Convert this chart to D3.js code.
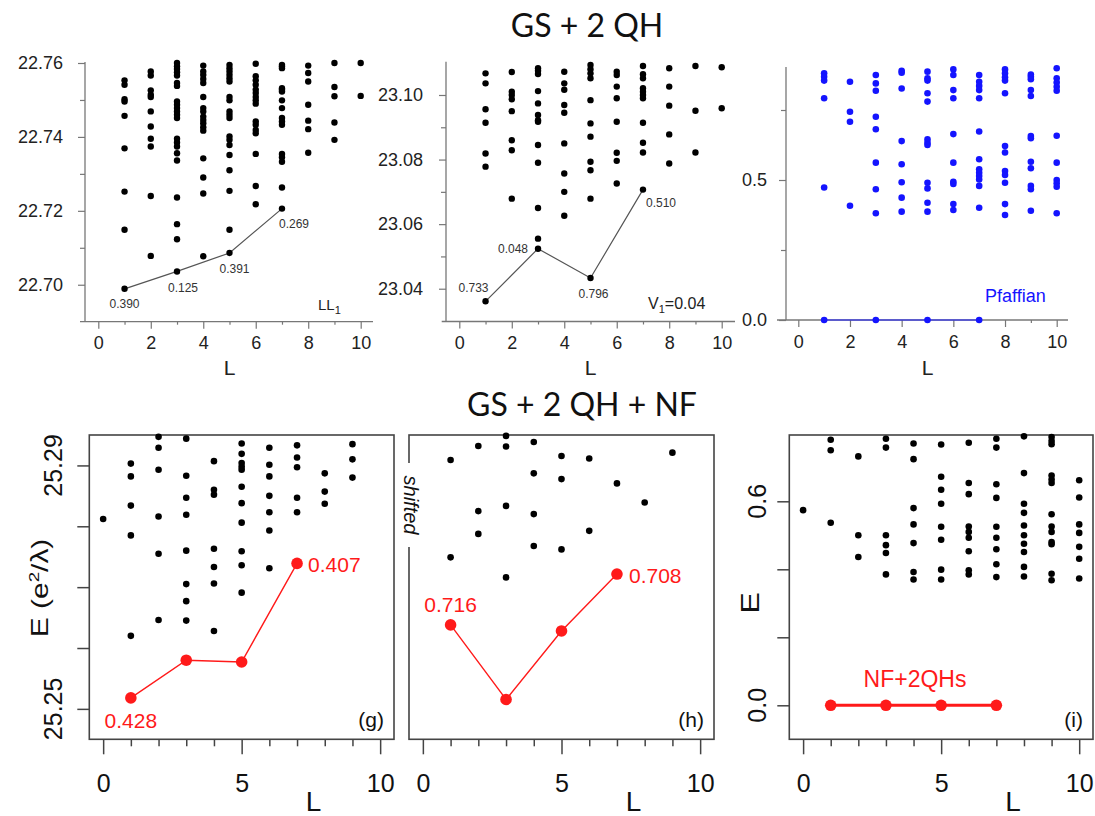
<!DOCTYPE html>
<html>
<head>
<meta charset="utf-8">
<script src="https://cdn.jsdelivr.net/npm/d3@7"></script>
<style>
  body { margin: 0; background: #fff; }
  svg { display: block; }
</style>
</head>
<body>
<script>
// Angular momentum values shared by all panels
const Lvalues = [0, 1, 2, 3, 4, 5, 6, 7, 8, 9, 10];

// ---- Panel LL1 (top left): energies per L (index = L)
const ll1Energies = [
  [],
  [22.7553, 22.7541, 22.7502, 22.7496, 22.7457, 22.7369, 22.7252, 22.7149],
  [22.7577, 22.7566, 22.7526, 22.7514, 22.7508, 22.7469, 22.7428, 22.7395, 22.7374, 22.7240, 22.7078],
  [22.7600, 22.7591, 22.7584, 22.7575, 22.7566, 22.7546, 22.7538, 22.7496, 22.7487, 22.7478, 22.7469, 22.7460, 22.7451, 22.7395, 22.7385, 22.7374, 22.7356, 22.7336, 22.7236, 22.7164, 22.7123],
  [22.7593, 22.7577, 22.7568, 22.7557, 22.7546, 22.7508, 22.7478, 22.7469, 22.7455, 22.7446, 22.7437, 22.7426, 22.7417, 22.7342, 22.7290, 22.7247, 22.7077],
  [22.7595, 22.7586, 22.7577, 22.7568, 22.7559, 22.7550, 22.7508, 22.7499, 22.7469, 22.7460, 22.7451, 22.7401, 22.7392, 22.7378, 22.7351, 22.7310, 22.7254, 22.7149],
  [22.7598, 22.7564, 22.7553, 22.7541, 22.7528, 22.7519, 22.7508, 22.7499, 22.7490, 22.7442, 22.7433, 22.7419, 22.7410, 22.7354, 22.7267, 22.7218],
  [22.7595, 22.7591, 22.7586, 22.7532, 22.7528, 22.7523, 22.7499, 22.7478, 22.7451, 22.7442, 22.7433, 22.7354, 22.7345, 22.7333, 22.7263],
  [22.7593, 22.7573, 22.7550, 22.7487, 22.7444, 22.7421, 22.7357],
  [22.7600, 22.7535, 22.7510, 22.7439, 22.7392],
  [22.7600, 22.7511]
];
const ll1LineL = [1, 3, 5, 7];
const ll1LineE = [22.6989, 22.7036, 22.7086, 22.7206];
const ll1LineLabels = ["0.390", "0.125", "0.391", "0.269"];
const ll1Ticks = [22.70, 22.72, 22.74, 22.76];

// ---- Panel V1=0.04 (top middle)
const v1Energies = [
  [],
  [23.1067, 23.1036, 23.0956, 23.0914, 23.0819, 23.0778],
  [23.1071, 23.1010, 23.1000, 23.0987, 23.0950, 23.0860, 23.0829, 23.0679],
  [23.1083, 23.1075, 23.1065, 23.1012, 23.0974, 23.0938, 23.0922, 23.0917, 23.0845, 23.0790, 23.0650, 23.0555],
  [23.1072, 23.1036, 23.1016, 23.0969, 23.0945, 23.0850, 23.0757, 23.0700, 23.0626],
  [23.1093, 23.1080, 23.1067, 23.1052, 23.0984, 23.0912, 23.0871, 23.0793, 23.0767, 23.0679],
  [23.1072, 23.1062, 23.1026, 23.0990, 23.0917, 23.0821, 23.0796, 23.0726],
  [23.1090, 23.1064, 23.1052, 23.1021, 23.1010, 23.1000, 23.0990, 23.0914, 23.0852, 23.0822],
  [23.1083, 23.1026, 23.0967, 23.0878, 23.0788],
  [23.1090, 23.0951, 23.0822],
  [23.1086, 23.0959]
];
const v1LineL = [1, 3, 5, 7];
const v1LineE = [23.0361, 23.0524, 23.0433, 23.0707];
const v1LineLabels = ["0.733", "0.048", "0.796", "0.510"];
const v1Ticks = [23.04, 23.06, 23.08, 23.10];

// ---- Panel Pfaffian (top right)
const pfEnergies = [
  [],
  [0.881, 0.869, 0.855, 0.792, 0.473],
  [0.851, 0.744, 0.708, 0.408],
  [0.875, 0.845, 0.819, 0.726, 0.681, 0.562, 0.467, 0.381],
  [0.890, 0.883, 0.827, 0.639, 0.556, 0.492, 0.437, 0.387],
  [0.887, 0.863, 0.855, 0.810, 0.780, 0.645, 0.633, 0.625, 0.490, 0.470, 0.419, 0.387],
  [0.895, 0.875, 0.821, 0.792, 0.664, 0.562, 0.494, 0.486, 0.414, 0.393],
  [0.875, 0.851, 0.836, 0.821, 0.792, 0.673, 0.574, 0.538, 0.526, 0.514, 0.502, 0.479, 0.401],
  [0.895, 0.881, 0.867, 0.855, 0.810, 0.621, 0.598, 0.532, 0.518, 0.490, 0.414, 0.375],
  [0.877, 0.869, 0.860, 0.821, 0.800, 0.657, 0.649, 0.565, 0.542, 0.479, 0.467, 0.390],
  [0.899, 0.863, 0.848, 0.833, 0.819, 0.658, 0.562, 0.500, 0.488, 0.476, 0.381]
];
const pfLineL = [1, 3, 5, 7];
const pfLineE = [0, 0, 0, 0];
const pfTicks = [0.0, 0.5];

// ---- Panel (g) GS + 2QH + NF
const gEnergies = [
  [25.2812],
  [25.2903, 25.2882, 25.2834, 25.2785, 25.2620],
  [25.2947, 25.2929, 25.2893, 25.2816, 25.2755, 25.2646],
  [25.2944, 25.2883, 25.2847, 25.2819, 25.2760, 25.2705, 25.2677, 25.2645],
  [25.2907, 25.2860, 25.2852, 25.2763, 25.2733, 25.2706, 25.2628],
  [25.2936, 25.2919, 25.2904, 25.2898, 25.2893, 25.2865, 25.2838, 25.2806, 25.2759, 25.2736, 25.2691],
  [25.2929, 25.2901, 25.2882, 25.2850, 25.2823, 25.2793, 25.2731],
  [25.2933, 25.2913, 25.2897, 25.2847, 25.2823],
  [25.2887, 25.2857, 25.2837],
  [25.2935, 25.2910, 25.2880],
  []
];
const gLineL = [1, 3, 5, 7];
const gLineE = [25.2518, 25.2580, 25.2577, 25.2739];
const gLineLabels = ["0.428", "0.407"];
const gTicks = [25.25, 25.26, 25.27, 25.28, 25.29];
const gTickLabels = [25.25, 25.29];

// ---- Panel (h) shifted energies (relative units)
const hEnergies = [
  [],
  [0.918, 0.598],
  [0.964, 0.750, 0.675],
  [0.997, 0.962, 0.767, 0.532],
  [0.977, 0.874, 0.740, 0.635],
  [0.931, 0.855, 0.624],
  [0.923, 0.685],
  [0.841],
  [0.778],
  [0.942],
  []
];
const hLineL = [1, 3, 5, 7];
const hLineE = [0.376, 0.131, 0.356, 0.543];
const hLineLabels = ["0.716", "0.708"];

// ---- Panel (i)
const iEnergies = [
  [0.574],
  [0.781, 0.750, 0.537],
  [0.732, 0.500, 0.436],
  [0.784, 0.758, 0.500, 0.471, 0.448, 0.385],
  [0.770, 0.724, 0.580, 0.532, 0.477, 0.392, 0.370],
  [0.767, 0.672, 0.634, 0.593, 0.525, 0.487, 0.399, 0.370],
  [0.772, 0.654, 0.621, 0.526, 0.510, 0.493, 0.453, 0.397, 0.385],
  [0.784, 0.758, 0.650, 0.610, 0.525, 0.493, 0.459, 0.415, 0.377],
  [0.791, 0.683, 0.593, 0.566, 0.529, 0.500, 0.475, 0.451, 0.407, 0.379],
  [0.789, 0.777, 0.768, 0.676, 0.664, 0.654, 0.562, 0.526, 0.510, 0.480, 0.474, 0.387, 0.368],
  [0.662, 0.611, 0.532, 0.507, 0.466, 0.431, 0.373]
];
const iLineL = [1, 3, 5, 7];
const iLineE = [0, 0, 0, 0];
const iTicks = [0.0, 0.2, 0.4, 0.6];
const iTickLabels = [0.0, 0.6];

const topXTicks = [0, 2, 4, 6, 8, 10];
const bottomXTicks = [0, 5, 10];

const sans = "'Liberation Sans', Arial, Helvetica, sans-serif";
const red = "#ff1a1a";

const svg = d3.select("body").append("svg")
  .attr("width", 1095)
  .attr("height", 816);

// Titles
svg.append("text")
  .attr("x", 587).attr("y", 37)
  .attr("text-anchor", "middle")
  .attr("font-family", "Lato, 'Open Sans', sans-serif")
  .attr("font-size", "32px")
  .attr("fill", "#111")
  .text("GS + 2 QH");

svg.append("text")
  .attr("x", 582).attr("y", 416)
  .attr("text-anchor", "middle")
  .attr("font-family", "Lato, 'Open Sans', sans-serif")
  .attr("font-size", "32px")
  .attr("fill", "#111")
  .text("GS + 2 QH + NF");

// flatten an energies-per-L table into points
function toPoints(table) {
  const pts = [];
  table.forEach((list, i) => list.forEach(e => pts.push({L: Lvalues[i], E: e})));
  return pts;
}

// ---------- Top row panels ----------
function topPanel(cfg) {
  const g = svg.append("g");
  const x = d3.scaleLinear().domain([0, 10]).range(cfg.xRange);
  const y = d3.scaleLinear().domain(cfg.yDomain).range([cfg.yBottom, cfg.yTop]);

  // axis lines
  g.append("line")
    .attr("x1", cfg.axisX).attr("x2", cfg.axisX)
    .attr("y1", cfg.yTop - 1).attr("y2", cfg.xAxisY)
    .attr("stroke", "#777").attr("stroke-width", 1.3);
  g.append("line")
    .attr("x1", cfg.xLineRange[0]).attr("x2", cfg.xLineRange[1])
    .attr("y1", cfg.xAxisY).attr("y2", cfg.xAxisY)
    .attr("stroke", "#777").attr("stroke-width", 1.3);

  // x ticks
  const xMinor = g.append("g").attr("transform", `translate(0,${cfg.xAxisY})`)
    .call(d3.axisBottom(x).tickValues(Lvalues.filter(v => v % 2 === 1)).tickSize(3).tickFormat(""));
  const xMajor = g.append("g").attr("transform", `translate(0,${cfg.xAxisY})`)
    .call(d3.axisBottom(x).tickValues(topXTicks).tickSize(7).tickPadding(8));
  [xMinor, xMajor].forEach(a => {
    a.select(".domain").remove();
    a.selectAll("line").attr("stroke", "#777").attr("stroke-width", 1.2);
    a.selectAll("text")
      .attr("font-family", sans).attr("font-size", "18px").attr("fill", "#222");
  });

  // y ticks
  const yMinor = g.append("g").attr("transform", `translate(${cfg.axisX},0)`)
    .call(d3.axisLeft(y).tickValues(cfg.minorTicks).tickSize(5).tickFormat(""));
  const yMajor = g.append("g").attr("transform", `translate(${cfg.axisX},0)`)
    .call(d3.axisLeft(y).tickValues(cfg.ticks).tickSize(7).tickPadding(cfg.yPad)
      .tickFormat(d3.format(cfg.fmt)));
  [yMinor, yMajor].forEach(a => {
    a.select(".domain").remove();
    a.selectAll("line").attr("stroke", "#777").attr("stroke-width", 1.2);
    a.selectAll("text")
      .attr("font-family", sans).attr("font-size", "18px").attr("fill", "#222");
  });

  // L label
  g.append("text")
    .attr("x", (cfg.xRange[0] + cfg.xRange[1]) / 2).attr("y", 375)
    .attr("text-anchor", "middle")
    .attr("font-family", sans).attr("font-size", "21px").attr("fill", "#222")
    .text("L");

  // connecting line
  const lineData = cfg.lineL.map((l, i) => ({L: l, E: cfg.lineE[i]}));
  g.append("path")
    .datum(lineData)
    .attr("d", d3.line().x(d => x(d.L)).y(d => y(d.E)))
    .attr("fill", "none")
    .attr("stroke", cfg.lineColor)
    .attr("stroke-width", 1.2);

  // dots
  g.selectAll("circle.dot")
    .data(toPoints(cfg.energies).concat(lineData))
    .join("circle")
    .attr("class", "dot")
    .attr("cx", d => x(d.L))
    .attr("cy", d => y(d.E))
    .attr("r", cfg.r)
    .attr("fill", cfg.color);

  return {g, x, y, lineData};
}

// Panel LL1
const p1 = topPanel({
  xRange: [98.3, 360.7], yDomain: [22.69, 22.76], yBottom: 321.7, yTop: 63,
  axisX: 85, xAxisY: 321.7, xLineRange: [80, 373],
  ticks: ll1Ticks, minorTicks: [22.71, 22.73, 22.75], fmt: ".2f", yPad: 15,
  energies: ll1Energies, lineL: ll1LineL, lineE: ll1LineE,
  lineColor: "#555", color: "#000", r: 3.2
});
const ll1Offsets = [[0, 19], [6, 21], [5, 20], [12, 19]];
p1.g.selectAll("text.lbl")
  .data(p1.lineData)
  .join("text")
  .attr("class", "lbl")
  .attr("x", (d, i) => p1.x(d.L) + ll1Offsets[i][0])
  .attr("y", (d, i) => p1.y(d.E) + ll1Offsets[i][1])
  .attr("text-anchor", "middle")
  .attr("font-family", sans).attr("font-size", "12px").attr("fill", "#333")
  .text((d, i) => ll1LineLabels[i]);
const ll1Tag = p1.g.append("text")
  .attr("x", 318).attr("y", 310)
  .attr("font-family", sans).attr("font-size", "15px").attr("fill", "#222");
ll1Tag.append("tspan").text("LL");
ll1Tag.append("tspan").attr("font-size", "11px").attr("dy", 4).text("1");

// Panel V1
const p2 = topPanel({
  xRange: [459.3, 721.7], yDomain: [23.03, 23.11], yBottom: 321, yTop: 62.7,
  axisX: 446, xAxisY: 321.5, xLineRange: [441.7, 735],
  ticks: v1Ticks, minorTicks: [23.05, 23.07, 23.09], fmt: ".2f", yPad: 16,
  energies: v1Energies, lineL: v1LineL, lineE: v1LineE,
  lineColor: "#555", color: "#000", r: 3.2
});
const v1Offsets = [[-12, -9, "middle"], [-10, 4, "end"], [3, 20, "middle"], [3, 17, "start"]];
p2.g.selectAll("text.lbl")
  .data(p2.lineData)
  .join("text")
  .attr("class", "lbl")
  .attr("x", (d, i) => p2.x(d.L) + v1Offsets[i][0])
  .attr("y", (d, i) => p2.y(d.E) + v1Offsets[i][1])
  .attr("text-anchor", (d, i) => v1Offsets[i][2])
  .attr("font-family", sans).attr("font-size", "12px").attr("fill", "#333")
  .text((d, i) => v1LineLabels[i]);
const v1Tag = p2.g.append("text")
  .attr("x", 648).attr("y", 309)
  .attr("font-family", sans).attr("font-size", "16px").attr("fill", "#222");
v1Tag.append("tspan").text("V");
v1Tag.append("tspan").attr("font-size", "11px").attr("dy", 4).text("1");
v1Tag.append("tspan").attr("dy", -4).text("=0.04");

// Panel Pfaffian
const p3 = topPanel({
  xRange: [798.3, 1056.7], yDomain: [0, 0.9], yBottom: 320, yTop: 68,
  axisX: 786, xAxisY: 320, xLineRange: [777, 1068],
  ticks: pfTicks, minorTicks: [0.25, 0.75], fmt: ".1f", yPad: 12,
  energies: pfEnergies, lineL: pfLineL, lineE: pfLineE,
  lineColor: "#1f1fff", color: "#1414ff", r: 3.3
});
p3.g.append("text")
  .attr("x", 985).attr("y", 302)
  .attr("font-family", sans).attr("font-size", "18px").attr("fill", "#1414ff")
  .text("Pfaffian");

// ---------- Bottom row panels ----------
function bottomPanel(cfg) {
  const g = svg.append("g");
  const x = d3.scaleLinear().domain([-0.5, 10.5]).range([cfg.left, cfg.right]);
  const y = d3.scaleLinear().domain(cfg.yDomain).range([739.3, 435]);

  g.append("rect")
    .attr("x", cfg.left).attr("y", 435)
    .attr("width", cfg.right - cfg.left).attr("height", 739.3 - 435)
    .attr("fill", "none").attr("stroke", "#444").attr("stroke-width", 1.6);

  const xMinor = g.append("g").attr("transform", "translate(0,739.3)")
    .call(d3.axisBottom(x).tickValues(Lvalues.filter(v => v % 5 !== 0)).tickSize(7).tickFormat(""));
  const xMajor = g.append("g").attr("transform", "translate(0,739.3)")
    .call(d3.axisBottom(x).tickValues(bottomXTicks).tickSize(15).tickPadding(20));
  [xMinor, xMajor].forEach(a => {
    a.select(".domain").remove();
    a.selectAll("line").attr("stroke", "#444").attr("stroke-width", 1.5);
    a.selectAll("text")
      .attr("font-family", sans).attr("font-size", "25px").attr("fill", "#111");
  });

  if (cfg.ticks) {
    const ya = g.append("g").attr("transform", `translate(${cfg.left},0)`)
      .call(d3.axisLeft(y).tickValues(cfg.ticks).tickSize(12).tickFormat(""));
    ya.select(".domain").remove();
    ya.selectAll("line").attr("stroke", "#444").attr("stroke-width", 1.5);
    g.selectAll("text.ytick")
      .data(cfg.tickLabels)
      .join("text")
      .attr("class", "ytick")
      .attr("transform", d => `translate(${cfg.tickLabelX},${y(d)}) rotate(-90)`)
      .attr("text-anchor", "middle")
      .attr("dy", "0.35em")
      .attr("font-family", sans).attr("font-size", "25px").attr("fill", "#111")
      .text(d => d3.format(cfg.fmt)(d));
  }

  g.append("text")
    .attr("x", (cfg.left + cfg.right) / 2 + 72).attr("y", 811)
    .attr("text-anchor", "middle")
    .attr("font-family", sans).attr("font-size", "28px").attr("fill", "#111")
    .text("L");

  g.selectAll("circle.dot")
    .data(toPoints(cfg.energies))
    .join("circle")
    .attr("class", "dot")
    .attr("cx", d => x(d.L))
    .attr("cy", d => y(d.E))
    .attr("r", 3.3)
    .attr("fill", "#000");

  const lineData = cfg.lineL.map((l, i) => ({L: l, E: cfg.lineE[i]}));
  g.append("path")
    .datum(lineData)
    .attr("d", d3.line().x(d => x(d.L)).y(d => y(d.E)))
    .attr("fill", "none")
    .attr("stroke", red)
    .attr("stroke-width", cfg.lineWidth);
  g.selectAll("circle.red")
    .data(lineData)
    .join("circle")
    .attr("class", "red")
    .attr("cx", d => x(d.L))
    .attr("cy", d => y(d.E))
    .attr("r", 5.8)
    .attr("fill", red);

  g.append("text")
    .attr("x", cfg.right - 10).attr("y", 727)
    .attr("text-anchor", "end")
    .attr("font-family", sans).attr("font-size", "21px").attr("fill", "#111")
    .text(cfg.tag);

  return {g, x, y, lineData};
}

// (g)
const pg = bottomPanel({
  left: 89.3, right: 394, yDomain: [25.245, 25.295],
  ticks: gTicks, tickLabels: gTickLabels, tickLabelX: 53, fmt: ".2f",
  energies: gEnergies, lineL: gLineL, lineE: gLineE, lineWidth: 1.4, tag: "(g)"
});
pg.g.append("text")
  .attr("x", pg.x(pg.lineData[0].L)).attr("y", pg.y(pg.lineData[0].E) + 30)
  .attr("text-anchor", "middle")
  .attr("font-family", sans).attr("font-size", "21px").attr("fill", red)
  .text(gLineLabels[0]);
pg.g.append("text")
  .attr("x", pg.x(pg.lineData[3].L) + 11).attr("y", pg.y(pg.lineData[3].E) + 9)
  .attr("font-family", sans).attr("font-size", "21px").attr("fill", red)
  .text(gLineLabels[1]);
const eLabel = pg.g.append("text")
  .attr("transform", "translate(48,588) rotate(-90) scale(1.25,1)")
  .attr("text-anchor", "middle")
  .attr("font-family", sans).attr("font-size", "24px").attr("fill", "#111");
eLabel.append("tspan").text("E (e");
eLabel.append("tspan").attr("font-size", "15px").attr("dy", -9).text("2");
eLabel.append("tspan").attr("dy", 9).text("/λ)");

// (h)
const ph = bottomPanel({
  left: 409, right: 714, yDomain: [0, 1],
  energies: hEnergies, lineL: hLineL, lineE: hLineE, lineWidth: 1.4, tag: "(h)"
});
ph.g.append("text")
  .attr("x", ph.x(ph.lineData[0].L)).attr("y", ph.y(ph.lineData[0].E) - 13)
  .attr("text-anchor", "middle")
  .attr("font-family", sans).attr("font-size", "21px").attr("fill", red)
  .text(hLineLabels[0]);
ph.g.append("text")
  .attr("x", ph.x(ph.lineData[3].L) + 12).attr("y", ph.y(ph.lineData[3].E) + 9)
  .attr("font-family", sans).attr("font-size", "21px").attr("fill", red)
  .text(hLineLabels[1]);
// "shifted" sits on the left frame line
ph.g.append("rect")
  .attr("x", 402).attr("y", 463).attr("width", 16).attr("height", 84)
  .attr("fill", "#fff");
ph.g.append("text")
  .attr("transform", "translate(404,505) rotate(90)")
  .attr("text-anchor", "middle")
  .attr("font-family", sans).attr("font-size", "20px").attr("font-style", "italic")
  .attr("fill", "#111")
  .text("shifted");

// (i)
const pi = bottomPanel({
  left: 789.3, right: 1093, yDomain: [-0.1, 0.795],
  ticks: iTicks, tickLabels: iTickLabels, tickLabelX: 757, fmt: ".1f",
  energies: iEnergies, lineL: iLineL, lineE: iLineE, lineWidth: 3, tag: "(i)"
});
pi.g.append("text")
  .attr("x", 915).attr("y", pi.y(0) - 18)
  .attr("text-anchor", "middle")
  .attr("font-family", sans).attr("font-size", "23px").attr("fill", red)
  .text("NF+2QHs");
pi.g.append("text")
  .attr("transform", "translate(759,603) rotate(-90) scale(1.25,1)")
  .attr("text-anchor", "middle")
  .attr("font-family", sans).attr("font-size", "26px").attr("fill", "#111")
  .text("E");
</script>
</body>
</html>
